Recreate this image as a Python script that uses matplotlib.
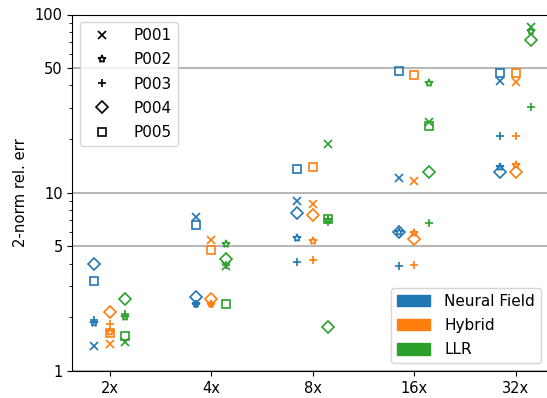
import numpy as np
import matplotlib
matplotlib.use("Agg")
import matplotlib.pyplot as plt
from matplotlib.lines import Line2D
from matplotlib.patches import Patch
from matplotlib.ticker import FixedLocator, NullFormatter

# upsampling factors on the x axis
scales = ["2x", "4x", "8x", "16x", "32x"]
patients = ["P001", "P002", "P003", "P004", "P005"]
methods = ["Neural Field", "Hybrid", "LLR"]

# rows = patients P001..P005, columns = scales
neural_field = [
    [1.39, 7.28, 8.98, 12.05, 42.3],
    [1.85, 2.37, 5.55, 6.0, 14.0],
    [1.93, 2.37, 4.10, 3.87, 20.8],
    [3.98, 2.59, 7.66, 6.0, 13.1],
    [3.20, 6.59, 13.58, 48.3, 47.1],
]
hybrid = [
    [1.41, 5.43, 8.64, 11.7, 42.0],
    [1.65, 2.37, 5.36, 5.92, 14.4],
    [1.83, 2.37, 4.19, 3.93, 20.8],
    [2.13, 2.52, 7.50, 5.48, 13.0],
    [1.63, 4.77, 14.0, 45.7, 47.1],
]
llr = [
    [1.46, 3.88, 18.75, 25.0, 85.3],
    [2.02, 5.15, 7.0, 41.1, 81.0],
    [2.10, 3.95, 6.85, 6.79, 30.4],
    [2.52, 4.23, 1.77, 13.1, 71.8],
    [1.57, 2.37, 7.09, 23.7, np.nan],
]

colors = ["#1f77b4", "#ff7f0e", "#2ca02c"]
markers = ["x", "*", "+", "D", "s"]
offsets = [-0.15, 0.0, 0.15]

fig = plt.figure(figsize=(5.47, 3.98), dpi=100)
ax = fig.add_axes([72.3 / 547, 27 / 398, (549 - 72.3) / 547, 356.5 / 398])

xpos = np.arange(len(scales))
for m, data in enumerate([neural_field, hybrid, llr]):
    for p in range(len(patients)):
        filled = markers[p] in ("x", "+")
        ax.plot(xpos + offsets[m], data[p], linestyle="none",
                marker=markers[p], markersize=6, color=colors[m],
                markerfacecolor=colors[m] if filled else "none",
                markeredgewidth=1.2)

ax.set_yscale("log")
ax.set_ylim(1, 100)
ax.set_xlim(-0.367, -0.367 + (549 - 72.3) / 101.5)
ax.set_xticks(xpos)
ax.set_xticklabels(scales)
ax.yaxis.set_major_locator(FixedLocator([1, 5, 10, 50, 100]))
ax.set_yticklabels(["1", "5", "10", "50", "100"])
ax.yaxis.set_minor_formatter(NullFormatter())
ax.tick_params(labelsize=10.5)
ax.grid(axis="y", which="major", color="#b0b0b0", linewidth=1.3)
ax.set_axisbelow(True)
ax.set_ylabel("2-norm rel. err", fontsize=10.7, labelpad=5)

leg_kw = dict(fontsize=11, handlelength=2.15, handletextpad=0.95,
              labelspacing=0.6)

marker_handles = [Line2D([], [], linestyle="none", marker=mk, color="black",
                         markerfacecolor="black" if mk in ("x", "+") else "none",
                         markersize=6, markeredgewidth=1.2)
                  for mk in markers]
leg1 = ax.legend(marker_handles, patients, loc="upper left", **leg_kw)
ax.add_artist(leg1)

color_handles = [Patch(color=c) for c in colors]
ax.legend(color_handles, methods, loc="lower right", handleheight=0.76,
          **leg_kw)

fig.savefig("out.png", dpi=100)
